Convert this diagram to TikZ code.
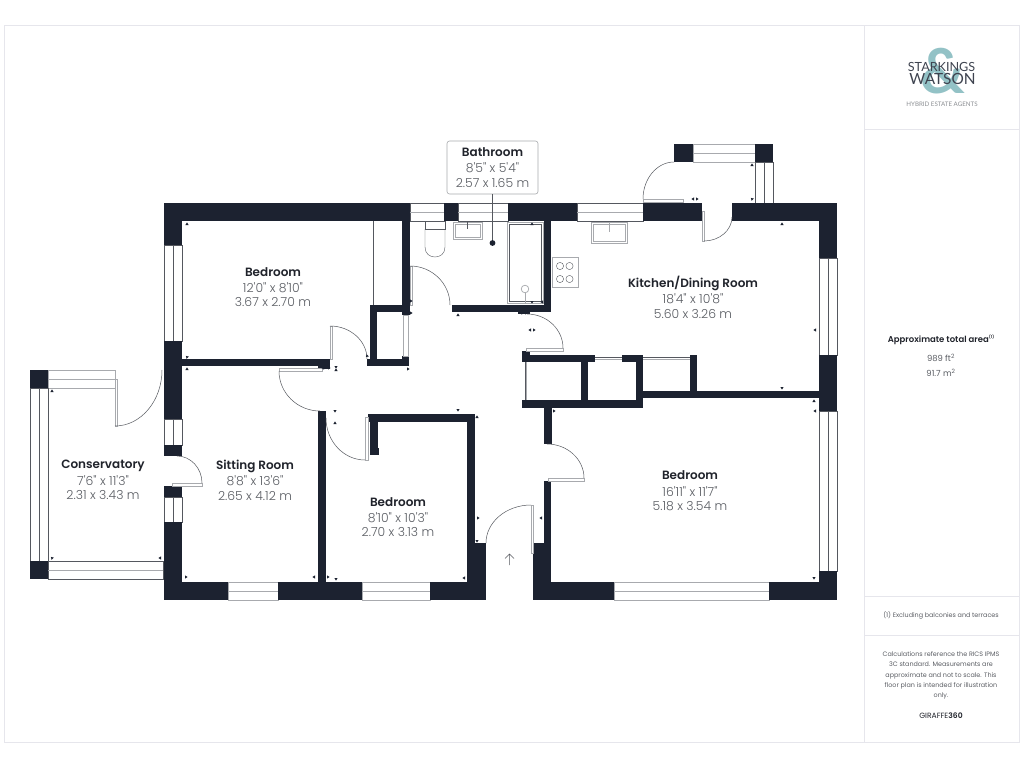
\documentclass[tikz,border=0pt]{standalone}
\usepackage{fontspec}
\setmainfont{Poppins Light}[Ligatures=TeXOff,BoldFont={Poppins SemiBold}]
\newfontfamily\logofont{Lato}
\newfontfamily\sidefont{Poppins}[Ligatures=TeXOff,BoldFont={Poppins SemiBold}]
\usetikzlibrary{calc}
\definecolor{wallc}{HTML}{1C2230}
\definecolor{framec}{HTML}{E6E6EC}
\definecolor{linec}{HTML}{55585F}
\definecolor{greyl}{HTML}{A8AAAE}
\definecolor{dimc}{HTML}{5A5D63}
\definecolor{namec}{HTML}{20232B}
\definecolor{tealc}{HTML}{93C2C6}
\tikzset{
  wallfill/.style={fill=wallc,draw=none},
  winline/.style={draw=linec,line width=0.5pt,fill=white},
  winlight/.style={draw=greyl,line width=0.6pt,fill=white},
  winmid/.style={draw=greyl,line width=0.7pt},
  framel/.style={draw=framec,line width=0.8pt},
  leaf/.style={draw=greyl,line width=0.6pt,fill=white},
  swing/.style={draw=linec,line width=0.5pt},
  fixture/.style={draw=greyl,line width=0.7pt},
  fixthin/.style={draw=linec,line width=0.4pt},
  roomlabel/.style={align=center,inner sep=0pt,text=dimc,font=\fontsize{12.4}{14.6}\selectfont},
  sidelabel/.style={align=center,inner sep=0pt,text=dimc,font=\sidefont\fontsize{6.4}{10.3}\selectfont},
}
\newcommand{\rn}[1]{{\color{namec}\fontsize{12}{14.6}\selectfont\bfseries #1}\\[1.6pt]}
\newcommand{\wal}[4]{\fill[wallfill] (#1,#2) rectangle (#3,#4);}
\newcommand{\winh}[4]{\draw[winline] (#1,#2) rectangle (#3,#4); \draw[winmid] (#1,{(#2+#4)/2}) -- (#3,{(#2+#4)/2});}
\newcommand{\winb}[4]{\draw[winlight] (#1,#2) rectangle (#3,#4); \draw[winmid] (#1,{(#2+#4)/2}) -- (#3,{(#2+#4)/2});}
\newcommand{\winv}[4]{\draw[winline] (#1,#2) rectangle (#3,#4); \draw[fixthin] ({(#1+#3)/2},#2) -- ({(#1+#3)/2},#4);}
% quarter swing from a to b with corner c
\newcommand{\qarc}[6]{\draw[swing] (#1,#2) .. controls ($(#1,#2)!.55!(#5,#6)$) and ($(#3,#4)!.55!(#5,#6)$) .. (#3,#4);}
\newcommand{\tk}[3]{\fill[wallc,shift={(#1,#2)},rotate=#3] (-1.6,1) -- (1.6,1) -- (0,-1.6) -- cycle;}
\begin{document}
\begin{tikzpicture}[x=1pt,y=-1pt]
\useasboundingbox (0,0) rectangle (1024,768);
\fill[white] (0,0) rectangle (1024,768);
% frame
\draw[framel] (4,25.5) rectangle (1019.5,742.5);
\draw[framel] (864,25.5) -- (864,742.5);
\draw[framel] (864,129) -- (1019.5,129);
\draw[framel] (864,596) -- (1019.5,596);
\draw[framel] (864,635) -- (1019.5,635);
% windows
\winh{410}{203}{444}{221}
\winh{458}{203}{508}{221}
\winh{577}{203}{643}{221}
\winb{228}{582}{278}{600}
\winb{362}{582}{430}{600}
\winb{614}{582}{769}{600}
\winb{693}{144}{755}{162}
\winb{48}{370}{115}{388}
\winh{48}{561}{163}{579}
\winv{164}{245}{182}{341}
\winv{164}{419}{182}{445}
\winv{164}{497}{182}{522}
\winv{819}{258}{837}{355}
\winv{819}{411}{837}{571}
\winv{755}{162}{773}{203}
\winv{30}{388}{48}{561}
% walls
\wal{164}{203}{410}{221}
\wal{164}{203}{182}{245}
\wal{402}{221}{410}{315}
\wal{444}{203}{458}{221}
\wal{508}{203}{577}{221}
\wal{544}{221}{551}{312}
\wal{452}{305}{551}{312}
\wal{370}{305}{410}{312}
\wal{370}{305}{377}{366}
\wal{367}{359}{409}{366}
\wal{402}{356}{409}{366}
\wal{182}{359}{330}{366}
\wal{318}{366}{330}{369}
\wal{163.5}{341}{182}{419}
\wal{163.5}{445}{182}{456}
\wal{163.5}{486}{182}{497}
\wal{163.5}{522}{182}{600}
\wal{164}{582}{228}{600}
\wal{278}{582}{362}{600}
\wal{430}{582}{486}{600}
\wal{318}{411}{326}{582}
\wal{368}{414}{475}{422}
\wal{370}{422}{378}{448}
\wal{370}{448}{379}{455}
\wal{467}{414}{475}{582}
\wal{475}{543}{486}{600}
\wal{533}{543}{551}{600}
\wal{551}{582}{614}{600}
\wal{769}{582}{837}{600}
\wal{819}{571}{837}{600}
\wal{819}{355}{837}{411}
\wal{819}{203}{837}{258}
\wal{732}{203}{837}{221}
\wal{643}{203}{702}{221}
\wal{544}{408}{552}{444}
\wal{544}{481}{551}{543}
\wal{522}{355}{595}{362}
\wal{522}{351}{530}{355}
\wal{622}{355}{643}{362}
\wal{636}{355}{643}{408}
\wal{522}{400}{643}{408}
\wal{581}{362}{588}{400}
\wal{690}{355}{697}{391}
\wal{643}{391}{819}{398}
\wal{518}{312}{530}{314}
\wal{674}{144}{693}{162}
\wal{755}{144}{773}{162}
\wal{30}{370}{48}{388}
\wal{30}{561}{48}{579}
% closet and sliding lines
\draw[fixture] (373.5,221) -- (373.5,305);
\draw[fixthin] (372.7,221) -- (372.7,305);
\draw[leaf] (403,315) rectangle (408.5,356);
\draw[fixthin] (595,357) -- (622,357);
\draw[fixture] (595,359.5) -- (622,359.5);
\draw[fixthin] (643,357) -- (690,357);
\draw[fixture] (643,359.5) -- (690,359.5);
\draw[fixture] (526,362) -- (526,400);
\draw[fixthin] (525.3,362) -- (525.3,400);
% door leaves
\draw[leaf] (330,326) rectangle (332.3,359);
\draw[leaf] (279,368) rectangle (322,371);
\draw[leaf] (365,417) rectangle (368,460.5);
\draw[leaf] (531,505) rectangle (533.5,553);
\draw[leaf] (548,478) rectangle (584,481);
\draw[leaf] (526,348) rectangle (563,351.5);
\draw[leaf] (702,211) rectangle (704.5,241);
\draw[leaf] (643,199) rectangle (683,202.5);
\draw[leaf] (115,379) rectangle (117.5,426);
\draw[leaf] (172,483) rectangle (202,486);
\draw[leaf] (410.5,266) rectangle (412.5,305);
% door swings
\qarc{330}{326}{367}{359}{367}{326}
\qarc{279}{371}{320}{411}{279}{411}
\qarc{326}{418}{365}{460}{326}{460}
\qarc{486}{543}{531}{505}{486}{505}
\qarc{547}{444}{584}{478}{584}{444}
\qarc{527}{314}{563}{348}{563}{314}
\qarc{704}{241}{732}{217}{732}{241}
\qarc{643}{199}{674}{162}{643}{162}
\qarc{115}{426}{162}{370}{162}{426}
\qarc{177}{456}{202}{483}{202}{456}
\qarc{410}{266}{450}{305}{450}{266}
% fixtures
\draw[fixture] (591,222) rectangle (627,243);
\draw[fixture] (593,224) rectangle (625,241);
\draw[fixture] (609,222) -- (609,232);
\draw[fixture] (453,222) rectangle (482,239);
\draw[fixture] (455,224) rectangle (480,237);
\draw[fixthin] (467,222) -- (467,229);
\draw[fixthin] (425,221) -- (425,229) -- (445,229) -- (445,221);
\draw[fixthin] (425,229) -- (425,247) .. controls (425,254) and (430,257) .. (435,257) .. controls (440,257) and (445,254) .. (445,247) -- (445,229);
\draw[fixture] (507,222) rectangle (543,303);
\draw[fixthin] (509,224) rectangle (541,301);
\draw[fixture] (525,289) circle (3.8);
\draw[fixture] (525,293) -- (525,303);
\draw[fixture] (552,257) rectangle (578,287);
\foreach \cx in {560,569.5}{\foreach \cy in {266,279}{\draw[fixthin] (\cx,\cy) circle (3.6);}}
% dimension ticks
\tk{187}{224}{0} \tk{187}{369}{0} \tk{187}{357}{45}
\tk{323}{368}{90} \tk{329}{368}{-90} \tk{336}{367}{180} \tk{336}{370}{0}
\tk{367}{356}{135} \tk{411}{301}{-90} \tk{411}{313}{-90} \tk{458}{315}{0}
\tk{532}{224}{0} \tk{532}{302}{180} \tk{542}{302}{90}
\tk{521}{313}{90} \tk{526}{313}{-90} \tk{530}{330}{90} \tk{534}{330}{-90}
\tk{408}{369}{-90} \tk{693}{199}{90} \tk{697}{199}{-90}
\tk{752}{165}{0} \tk{752}{199}{45} \tk{782}{224}{0}
\tk{815}{330}{90} \tk{782}{388}{180} \tk{814}{401}{0} \tk{815}{411}{90}
\tk{554}{411}{-90} \tk{814}{578}{180} \tk{541}{518}{90}
\tk{335}{411}{180} \tk{335}{423}{0} \tk{458}{410}{180} \tk{477}{417}{0}
\tk{478}{518}{-90} \tk{477}{541}{180} \tk{314}{577}{90} \tk{328}{577}{-90}
\tk{336}{579}{180} \tk{464}{578}{90} \tk{52}{391}{0} \tk{52}{558}{45}
\tk{160}{558}{90} \tk{186}{577}{-90}
% entrance arrow
\draw[linec,line width=0.5pt] (509.5,565) -- (509.5,554) (505,558.5) -- (509.5,554) -- (514,558.5);
% labels
\node[roomlabel] (bedA) at (273,287) {\rn{Bedroom}12'0" x 8'10"\\3.67 x 2.70 m};
\node[roomlabel] (kitchen) at (693,297) {\rn{Kitchen/Dining Room}18'4" x 10'8"\\5.60 x 3.26 m};
\node[roomlabel] (conserv) at (103,480) {\rn{Conservatory}7'6" x 11'3"\\2.31 x 3.43 m};
\node[roomlabel] (sitting) at (255,480) {\rn{Sitting Room}8'8" x 13'6"\\2.65 x 4.12 m};
\node[roomlabel] (bedB) at (398,517) {\rn{Bedroom}8'10" x 10'3"\\2.70 x 3.13 m};
\node[roomlabel] (bedC) at (690,491) {\rn{Bedroom}16'11" x 11'7"\\5.18 x 3.54 m};
\node[roomlabel,draw=greyl,line width=0.6pt,rounded corners=2.5pt,fill=white,minimum width=91pt,minimum height=53pt] (bath) at (492.5,167.5) {\rn{Bathroom}8'5" x 5'4"\\2.57 x 1.65 m};
\coordinate (bathdot) at (492.5,243);
\draw[fixthin] (bath.south) -- (bathdot);
\fill[wallc] (bathdot) circle (2.9);
% side panel
\node[text=tealc,font=\logofont\bfseries\fontsize{62}{62}\selectfont,inner sep=0pt] (amp) at (943,71) {\&};
\node[text=wallc!85,font=\logofont\fontsize{12.6}{12.6}\selectfont,inner sep=0pt] (logoA) at (941.5,66.5) {STARKINGS};
\node[text=wallc!85,font=\logofont\fontsize{15.4}{15.4}\selectfont,inner sep=0pt] (logoB) at (942.5,79) {WATSON};
\node[text=dimc!70,font=\logofont\fontsize{6.2}{7}\selectfont,inner sep=0pt] (logoC) at (942,104) {HYBRID ESTATE AGENTS};
\node[inner sep=0pt,text=namec,font=\sidefont\fontsize{8.5}{10}\selectfont\bfseries] (area) at (941,340) {Approximate total area\raisebox{3.6pt}{\fontsize{4}{4}\selectfont(1)}};
\node[sidelabel,font=\sidefont\fontsize{8.4}{15}\selectfont] (areav) at (941,365) {989 ft\textsuperscript{2}\\91.7 m\textsuperscript{2}};
\node[sidelabel] (excl) at (941,615) {(1) Excluding balconies and terraces};
\node[sidelabel] (calc) at (941,675.5) {Calculations reference the RICS IPMS\\3C standard. Measurements are\\approximate and not to scale. This\\floor plan is intended for illustration\\only.};
\node[inner sep=0pt,text=namec,font=\sidefont\fontsize{7.6}{10}\selectfont] (gir) at (941,716) {GIRAFFE\textbf{360}};
\end{tikzpicture}
\end{document}
